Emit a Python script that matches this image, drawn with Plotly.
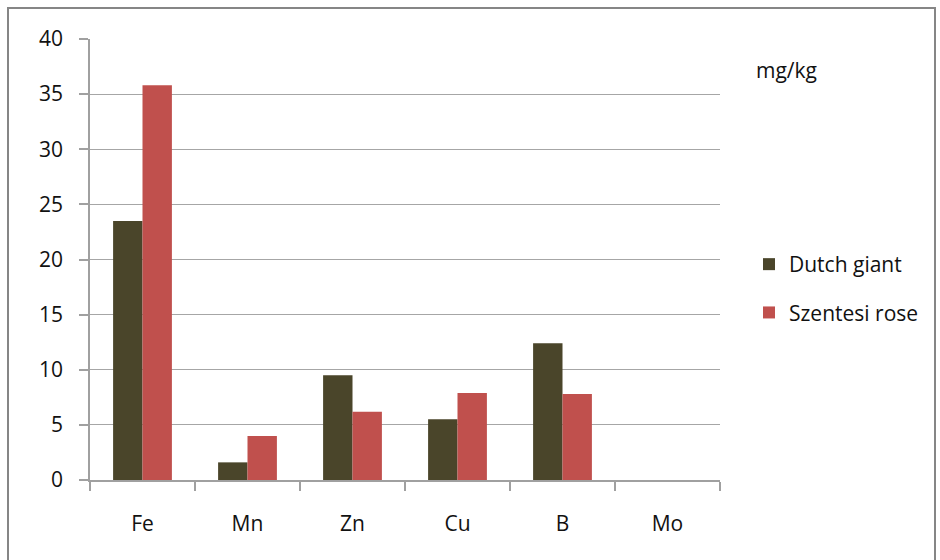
import plotly.graph_objects as go

categories = ["Fe", "Mn", "Zn", "Cu", "B", "Mo"]
dutch_giant = [23.5, 1.6, 9.5, 5.5, 12.4, 0]
szentesi_rose = [35.8, 4.0, 6.2, 7.9, 7.8, 0]
y_ticks = [0, 5, 10, 15, 20, 25, 30, 35, 40]

W, H = 940, 560
L, R, T, B = 90, 220, 39, 80
pw, ph = W - L - R, H - T - B

def px(x):
    return (x - L) / pw

def py(y):
    return (H - B - y) / ph

FONT = "Open Sans"
FS = 21
fig = go.Figure()
fig.add_trace(go.Bar(x=categories, y=dutch_giant, name="Dutch giant", legendgroup="a",
                     marker=dict(color="#4A452A", line=dict(width=0))))
fig.add_trace(go.Bar(x=categories, y=szentesi_rose, name="Szentesi rose", legendgroup="b",
                     marker=dict(color="#C0504D", line=dict(width=0))))

fig.update_layout(
    width=W, height=H,
    margin=dict(l=L, r=R, t=T, b=B, autoexpand=False),
    paper_bgcolor="white", plot_bgcolor="white",
    barmode="group", bargap=0.44, bargroupgap=0,
    font=dict(family=FONT, size=FS, color="#111111"),
    legend=dict(x=px(749), y=py(244), xanchor="left", yanchor="top",
                font=dict(size=FS), tracegroupgap=18, itemwidth=30,
                bgcolor="rgba(0,0,0,0)"),
    xaxis=dict(showgrid=False, showline=True, linecolor="#A0A0A0", linewidth=1.5,
               ticks="outside", tickson="boundaries", ticklen=9, tickcolor="#A0A0A0",
               tickwidth=1.5, ticklabelstandoff=24, zeroline=False),
    yaxis=dict(range=[0, 40], tickvals=y_ticks, showgrid=True, gridcolor="#A6A6A6",
               gridwidth=1.3, showline=True, linecolor="#A0A0A0", linewidth=1.5,
               ticks="outside", ticklen=9, tickcolor="#A0A0A0", tickwidth=1.5,
               ticklabelstandoff=12, zeroline=False),
    annotations=[dict(text="mg/kg", xref="paper", yref="paper", x=px(754), y=py(70),
                      xanchor="left", yanchor="middle", showarrow=False,
                      font=dict(size=FS, family=FONT))],
    shapes=[dict(type="rect", xref="paper", yref="paper",
                 x0=px(8), x1=px(935), y0=py(600), y1=py(8),
                 line=dict(color="#868686", width=2), layer="below")],
)

fig.write_html("out.html")
